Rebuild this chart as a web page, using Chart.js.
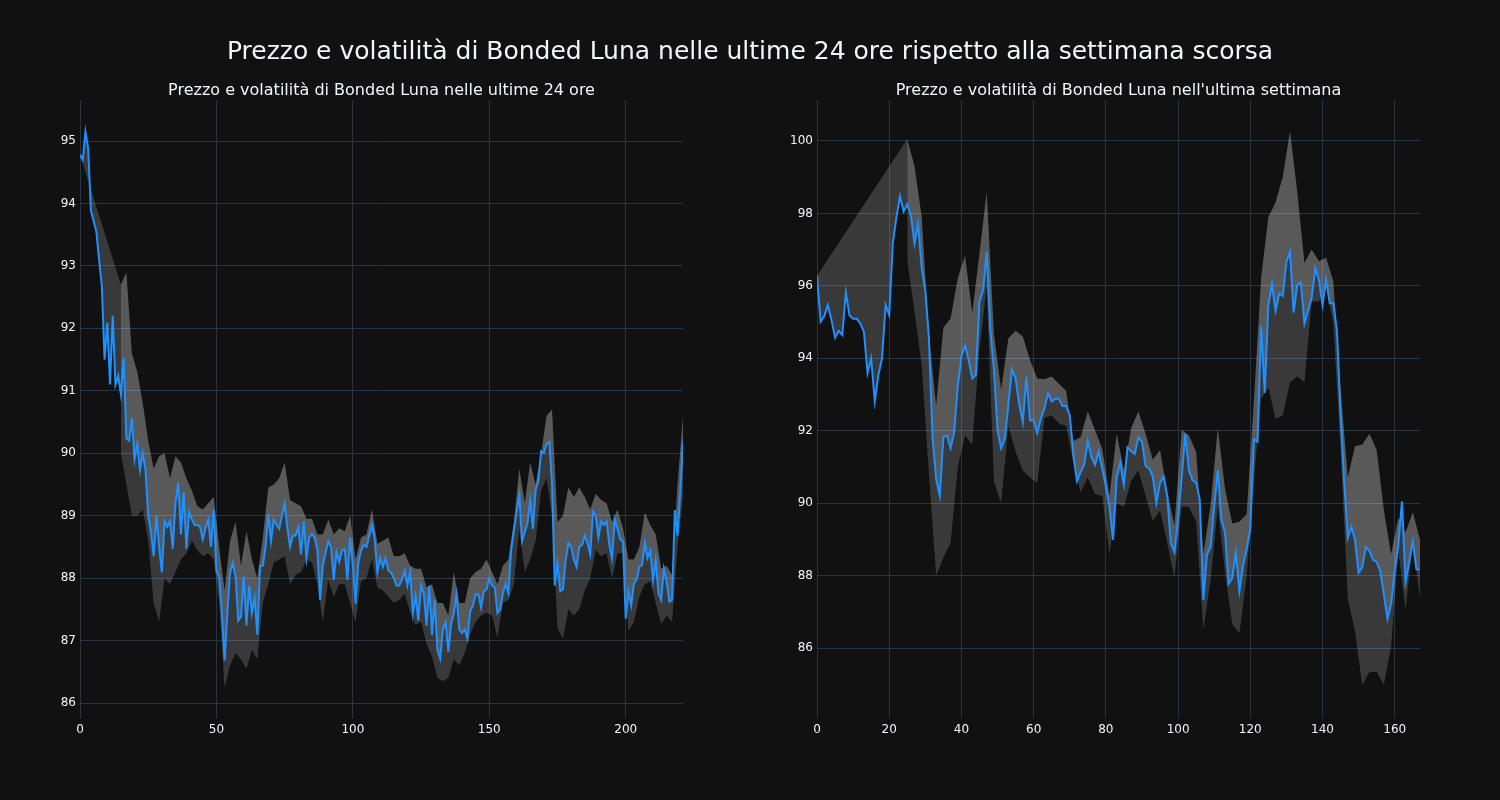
<!DOCTYPE html>
<html>
<head>
<meta charset="utf-8">
<script src="https://cdn.jsdelivr.net/npm/chart.js@4/dist/chart.umd.min.js"></script>
<style>
html,body{margin:0;padding:0;background:#111111;}
#wrap{position:relative;width:1500px;height:800px;background:#111111;overflow:hidden;font-family:"DejaVu Sans",sans-serif;color:#f2f5fa;}
.t{position:absolute;white-space:nowrap;transform:translate(-50%,-50%);}
#main{left:750px;top:50px;font-size:25px;}
#t1{left:381.5px;top:89px;font-size:16px;}
#t2{left:1118.5px;top:89px;font-size:16px;}
canvas{position:absolute;top:0;}
</style>
</head>
<body>
<div id="wrap">
<canvas id="c1" width="750" height="800" style="left:0px"></canvas>
<canvas id="c2" width="750" height="800" style="left:750px"></canvas>
<div class="t" id="main">Prezzo e volatilità di Bonded Luna nelle ultime 24 ore rispetto alla settimana scorsa</div>
<div class="t" id="t1">Prezzo e volatilità di Bonded Luna nelle ultime 24 ore</div>
<div class="t" id="t2">Prezzo e volatilità di Bonded Luna nell'ultima settimana</div>
</div>
<script>
// ---- Left panel: last 24 hours ----
const leftPrice = [
94.78,94.7,95.15,94.88,93.88,93.72,93.55,93.1,92.68,91.5,
92.09,91.1,92.2,91.1,91.24,90.94,91.53,90.24,90.2,90.56,
89.9,90.15,89.73,90.0,89.73,89.0,88.74,88.35,89.0,88.5,
88.09,88.91,88.82,88.91,88.47,89.2,89.53,88.7,89.38,88.47,
89.06,88.94,88.85,88.85,88.82,88.62,88.8,88.94,88.5,89.09,
88.12,88.03,87.44,86.68,87.44,88.09,88.24,88.03,87.32,87.38,
88.03,87.24,87.88,87.44,87.68,87.09,88.2,88.2,88.5,89.03,
88.59,88.94,88.85,88.79,89.0,89.2,88.8,88.5,88.68,88.68,
88.82,88.38,88.91,88.32,88.65,88.71,88.65,88.45,87.65,88.21,
88.4,88.59,88.5,87.97,88.41,88.26,88.44,88.47,87.97,88.65,
88.21,87.59,88.24,88.44,88.53,88.5,88.68,88.85,88.62,88.09,
88.32,88.18,88.32,88.12,88.09,88.0,87.88,87.88,87.97,88.12,
87.88,88.09,87.44,87.71,87.32,87.88,87.76,87.24,87.88,87.09,
87.65,86.85,86.71,87.18,87.29,86.82,87.26,87.44,87.74,87.18,
87.12,87.18,87.03,87.47,87.56,87.74,87.74,87.53,87.79,87.82,
88.0,87.88,87.85,87.44,87.5,87.76,87.91,87.76,88.44,88.76,
89.05,89.32,88.59,88.74,88.88,89.24,88.79,89.41,89.56,90.03,
90.0,90.15,90.18,89.5,87.88,88.24,87.79,87.82,88.29,88.56,
88.5,88.3,88.18,88.5,88.53,88.68,88.56,88.38,89.06,89.0,
88.65,88.91,88.85,88.91,88.53,88.32,88.94,88.79,88.62,88.59,
87.35,87.79,87.56,87.91,87.97,88.18,88.21,88.56,88.32,88.44,
87.97,88.29,87.76,87.65,88.15,87.94,87.62,87.65,89.09,88.68,
89.38,90.18
];
const leftBandStart = 15;
const leftBandStep = 2;
const leftUpper = [
92.7,92.9,91.6,91.3,90.8,90.2,89.75,89.95,90.0,89.6,
89.95,89.85,89.6,89.4,89.15,89.1,89.2,89.3,88.5,87.8,
88.6,88.9,88.2,88.75,88.3,88.0,88.65,89.45,89.5,89.6,
89.85,89.25,89.2,89.15,88.95,88.95,88.7,88.7,88.94,88.7,
88.8,88.75,89.0,88.3,88.65,88.7,89.1,88.55,88.6,88.65,
88.35,88.35,88.4,88.2,88.15,88.15,87.85,87.9,87.6,87.6,
87.4,88.1,87.6,87.6,88.0,88.1,88.15,88.3,88.1,87.9,
88.2,88.3,88.9,89.75,89.2,89.85,89.5,90.0,90.6,90.7,
88.9,89.0,89.45,89.3,89.45,89.3,89.1,89.35,89.25,89.2,
88.9,89.1,88.8,88.3,88.3,88.5,89.05,88.85,88.7,88.15,
88.2,88.05,89.5,90.6
];
const leftLower = [
90.0,89.5,89.0,89.0,89.1,88.6,87.6,87.3,88.0,87.9,
88.1,88.3,88.4,88.6,88.45,88.35,88.4,88.3,87.6,86.25,
86.6,86.8,86.7,86.55,86.85,86.7,87.6,87.9,88.25,88.3,
88.35,87.9,88.05,88.1,88.3,88.25,87.9,87.3,87.97,87.7,
87.9,87.9,87.6,87.3,87.95,88.0,88.3,87.85,87.8,87.7,
87.6,87.65,87.75,87.45,87.25,87.3,86.95,86.75,86.4,86.35,
86.4,86.7,86.6,86.8,87.1,87.3,87.4,87.45,87.4,87.05,
87.6,87.65,87.9,88.8,88.1,88.3,88.6,89.4,89.6,89.0,
87.2,87.03,87.5,87.4,87.5,87.8,88.0,88.45,88.35,88.4,
88.0,88.4,88.4,87.15,87.3,87.7,87.9,87.95,87.6,87.26,
87.4,87.3,88.5,89.3
];
const leftXTicks = [0, 50, 100, 150, 200];
const leftYTicks = [86, 87, 88, 89, 90, 91, 92, 93, 94, 95];

// ---- Right panel: last week ----
const rightPrice = [
96.28,95.01,95.16,95.47,95.06,94.57,94.76,94.64,95.82,95.18,
95.09,95.09,94.96,94.73,93.59,94.0,92.81,93.54,94.0,95.47,
95.19,97.19,97.89,98.48,98.05,98.25,97.95,97.17,97.71,96.48,
95.87,94.55,91.82,90.66,90.2,91.82,91.87,91.52,91.97,93.24,
94.05,94.35,93.95,93.44,93.54,95.57,95.87,96.93,94.76,93.69,
92.02,91.52,91.77,92.73,93.69,93.44,92.73,92.23,93.49,92.28,
92.28,91.94,92.33,92.63,93.04,92.81,92.88,92.88,92.68,92.68,
92.43,91.32,90.61,90.86,91.06,91.72,91.27,91.06,91.42,90.96,
90.46,89.9,88.99,90.71,91.11,90.51,91.54,91.44,91.36,91.82,
91.7,91.03,90.96,90.73,90.0,90.56,90.73,90.2,88.89,88.64,
89.6,90.71,91.92,90.91,90.63,90.56,90.1,87.32,88.58,88.79,
89.9,90.91,89.54,89.19,87.77,87.93,88.63,87.57,88.28,88.73,
89.29,91.77,91.7,94.88,93.04,95.47,96.05,95.31,95.79,95.72,
96.66,96.93,95.26,96.02,96.09,94.96,95.31,95.67,96.48,96.17,
95.47,96.17,95.52,95.52,94.76,92.43,90.6,89.04,89.34,88.99,
88.08,88.23,88.79,88.68,88.43,88.38,88.13,87.47,86.81,87.22,
88.13,88.84,90.05,87.82,88.38,88.94,88.18,88.16
];
const rightBandStart = 25;
const rightBandStep = 2;
const rightUpper = [
100.05,99.3,97.9,94.6,92.7,94.85,95.1,96.22,96.83,95.25,
96.9,98.6,94.66,93.14,94.55,94.76,94.6,93.95,93.44,93.42,
93.5,93.3,93.1,91.72,91.82,92.53,92.02,91.5,90.2,91.92,
90.9,92.07,92.53,91.92,91.2,91.47,90.3,89.4,92.02,91.87,
91.42,88.58,89.95,92.07,90.4,89.44,89.49,89.7,92.83,96.22,
97.89,98.3,99.01,100.27,98.6,96.63,97.0,96.68,96.78,96.12,
93.14,90.71,91.57,91.62,91.92,91.47,89.8,88.58,89.6,89.19,
89.75,88.99
];
const rightLower = [
96.7,95.3,93.8,90.8,88.0,88.5,88.9,91.0,91.87,91.62,
94.25,95.97,90.6,90.0,92.13,91.42,90.9,90.71,90.56,92.35,
92.43,92.2,92.13,91.11,90.3,90.71,90.25,90.2,88.6,90.0,
89.9,90.61,90.91,90.2,89.5,89.8,88.9,87.95,89.9,89.9,
89.49,86.51,87.87,89.9,88.08,86.66,86.41,87.98,90.61,92.88,
93.19,92.33,92.43,93.34,93.5,93.34,95.57,95.57,95.97,94.96,
91.5,87.37,86.46,84.99,85.34,85.34,84.99,86.05,88.68,87.06,
88.89,87.37
];
const rightXTicks = [0, 20, 40, 60, 80, 100, 120, 140, 160];
const rightYTicks = [86, 88, 90, 92, 94, 96, 98, 100];

const GRID = '#283442';
const FONT_COLOR = '#f2f5fa';
const LINE_COLOR = '#1e90ff';
const BAND_COLOR = 'rgba(255,255,255,0.17)';

function makeChart(id, price, upper, lower, bandStart, bandStep, xMax, yMin, yMax, xTicks, yTicks, yAxisWidth, rightPad) {
  const pricePts = price.map((y, i) => ({x: i, y: y}));
  const upperPts = [{x: 0, y: price[0]}].concat(upper.map((y, i) => ({x: bandStart + i * bandStep, y: y})));
  const lowerPts = lower.map((y, i) => ({x: bandStart + i * bandStep, y: y}));
  const tickFont = {family: 'DejaVu Sans', size: 12};
  return new Chart(document.getElementById(id), {
    type: 'line',
    data: {
      datasets: [
        {data: pricePts, borderColor: LINE_COLOR, borderWidth: 2, pointRadius: 0, fill: false, tension: 0, order: 0},
        {data: upperPts, borderColor: 'rgba(0,0,0,0)', borderWidth: 0, pointRadius: 0, backgroundColor: BAND_COLOR, fill: '-1', tension: 0, order: 2},
        {data: lowerPts, borderColor: 'rgba(0,0,0,0)', borderWidth: 0, pointRadius: 0, backgroundColor: BAND_COLOR, fill: '-1', tension: 0, order: 1}
      ]
    },
    options: {
      responsive: false,
      animation: false,
      devicePixelRatio: 1,
      layout: {padding: {left: 0, right: rightPad, top: 100, bottom: 52}},
      plugins: {legend: {display: false}, tooltip: {enabled: false}, title: {display: false}},
      scales: {
        x: {
          type: 'linear', min: 0, max: xMax,
          grid: {color: GRID, lineWidth: 1, drawTicks: false},
          border: {display: false},
          ticks: {color: FONT_COLOR, font: tickFont, padding: 5, maxRotation: 0, autoSkip: false},
          afterBuildTicks: s => { s.ticks = xTicks.map(v => ({value: v})); },
          afterFit: s => { s.height = 30; }
        },
        y: {
          type: 'linear', min: yMin, max: yMax,
          grid: {color: GRID, lineWidth: 1, drawTicks: false},
          border: {display: false},
          ticks: {color: FONT_COLOR, font: tickFont, padding: 4, autoSkip: false},
          afterBuildTicks: s => { s.ticks = yTicks.map(v => ({value: v})); },
          afterFit: s => { s.width = yAxisWidth; }
        }
      }
    }
  });
}

makeChart('c1', leftPrice, leftUpper, leftLower, leftBandStart, leftBandStep, 221, 85.76, 95.657, leftXTicks, leftYTicks, 80, 67);
makeChart('c2', rightPrice, rightUpper, rightLower, rightBandStart, rightBandStep, 167, 84.07, 101.13, rightXTicks, rightYTicks, 67, 80);
</script>
</body>
</html>
